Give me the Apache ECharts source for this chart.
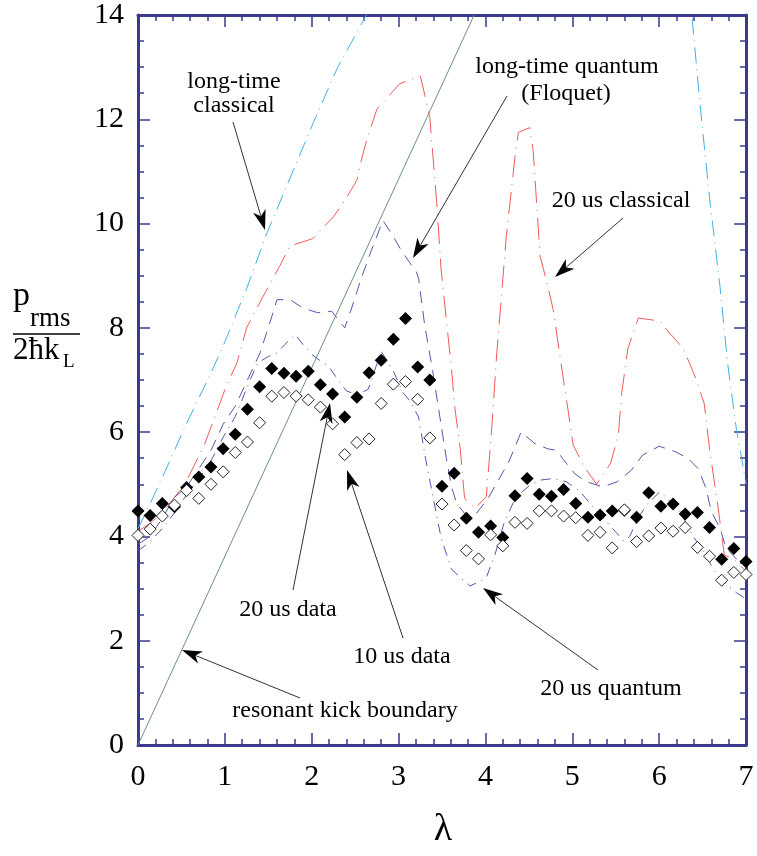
<!DOCTYPE html>
<html><head><meta charset="utf-8">
<script src="https://cdn.jsdelivr.net/npm/echarts@6/dist/echarts.min.js"></script>
<style>html,body{margin:0;padding:0;background:#fff}#c{width:757px;height:856px}</style>
</head><body><div id="c"></div>
<script>
// ---- data ----
const xTicks = [0, 1, 2, 3, 4, 5, 6, 7];
const yTicks = [0, 2, 4, 6, 8, 10, 12, 14];
const lambda = [0,0.14,0.28,0.42,0.56,0.70,0.84,0.98,1.12,1.26,1.40,1.54,1.68,1.82,1.96,2.10,2.24,2.38,2.52,2.66,2.80,2.94,3.08,3.22,3.36,3.50,3.64,3.78,3.92,4.06,4.20,4.34,4.48,4.62,4.76,4.90,5.04,5.18,5.32,5.46,5.60,5.74,5.88,6.02,6.16,6.30,6.44,6.58,6.72,6.86,7.00];
const data20us = [4.49,4.40,4.63,4.57,4.94,5.14,5.33,5.68,5.96,6.44,6.87,7.22,7.13,7.07,7.17,6.91,6.73,6.29,6.67,7.14,7.38,7.78,8.18,7.25,7.00,4.96,5.21,4.35,4.08,4.20,3.98,4.78,5.11,4.81,4.77,4.90,4.63,4.37,4.41,4.49,4.50,4.37,4.84,4.58,4.62,4.43,4.46,4.17,3.56,3.77,3.52];
const data10us = [4.02,4.14,4.39,4.60,4.88,4.73,5.00,5.24,5.61,5.81,6.18,6.69,6.76,6.69,6.62,6.48,6.16,5.57,5.80,5.87,6.55,6.92,6.97,6.63,5.89,4.62,4.22,3.73,3.57,4.03,3.82,4.27,4.25,4.49,4.49,4.39,4.36,4.02,4.08,3.78,4.51,3.90,4.01,4.16,4.10,4.17,3.79,3.62,3.16,3.31,3.27];

const ltClassX = [0,0.14,0.31,0.54,0.83,0.98,1.25,1.48,2.02,2.30,2.63,2.80,4.00,6.20,6.30,6.39,6.47,6.58,6.70,6.79,6.89,6.95,7.00];
const ltClassY = [4.15,4.63,5.24,6.10,7.10,7.65,8.75,9.80,11.94,13.00,14.00,14.60,19.0,19.0,15.3,13.75,12.30,10.50,8.80,7.30,6.05,5.50,5.00];

const cl20X = [0,0.14,0.30,0.54,0.77,1.02,1.14,1.25,1.40,1.63,1.75,2.01,2.25,2.38,2.52,2.56,2.63,2.75,2.82,3.01,3.25,3.30,3.36,3.44,3.49,3.55,3.61,3.65,3.71,3.76,3.88,4.01,4.07,4.13,4.24,4.34,4.38,4.51,4.55,4.59,4.63,4.72,4.78,4.89,4.95,5.01,5.14,5.28,5.44,5.53,5.57,5.64,5.76,6.01,6.12,6.28,6.43,6.52,6.58,6.68,6.75,6.89,7.00];
const cl20Y = [4.10,4.25,4.50,5.00,5.78,6.90,7.33,8.00,8.48,9.18,9.57,9.71,10.13,10.44,10.83,11.14,11.59,12.19,12.32,12.68,12.83,12.48,12.03,10.38,9.11,8.16,7.20,6.44,5.68,4.73,4.54,4.76,6.00,7.50,9.75,11.27,11.75,11.84,11.40,10.38,9.37,8.79,8.35,7.10,6.44,5.75,5.33,5.00,5.40,5.94,6.76,7.60,8.19,8.13,7.90,7.60,7.00,6.54,5.68,4.54,3.65,3.52,3.33];

const floqX = [0,0.14,0.28,0.42,0.56,0.70,0.84,0.98,1.12,1.26,1.40,1.50,1.60,1.75,1.90,2.07,2.23,2.38,2.46,2.57,2.69,2.82,2.94,3.03,3.15,3.20,3.23,3.30,3.39,3.55,3.61,3.67,3.76,3.90,4.03,4.17,4.26,4.34,4.41,4.57,4.72,4.82,4.89,5.03,5.16,5.35,5.52,5.68,5.81,6.00,6.18,6.33,6.45,6.54,6.60,6.70,6.77,6.90,7.00];
const floqY = [3.85,4.00,4.35,4.75,4.95,5.30,5.65,6.15,6.50,7.00,7.50,8.00,8.54,8.54,8.38,8.29,8.32,8.00,8.38,8.95,9.50,10.06,9.75,9.49,9.20,9.10,8.95,8.06,7.20,5.50,4.95,4.63,4.44,4.45,4.73,5.14,5.40,5.71,6.00,5.78,5.68,5.65,5.49,5.20,5.05,4.95,5.05,5.27,5.56,5.73,5.63,5.50,5.30,4.92,4.48,4.16,3.78,3.55,3.40];

const qu20X = [0,0.14,0.28,0.42,0.56,0.70,0.84,0.98,1.12,1.29,1.38,1.50,1.60,1.69,1.81,1.90,2.00,2.13,2.19,2.30,2.40,2.52,2.65,2.80,2.94,3.05,3.13,3.23,3.31,3.38,3.49,3.61,3.72,3.82,3.94,4.01,4.11,4.22,4.35,4.51,4.63,4.78,4.93,5.09,5.22,5.39,5.60,5.66,5.78,5.87,6.01,6.10,6.24,6.39,6.54,6.62,6.77,6.89,7.00];
const qu20Y = [3.72,3.90,4.15,4.45,4.80,5.10,5.45,5.90,6.30,7.00,7.33,7.45,7.52,7.68,7.87,7.68,7.49,7.33,7.27,7.01,6.79,6.72,6.82,7.55,7.17,6.76,6.60,6.29,5.50,4.90,3.97,3.37,3.20,3.05,3.14,3.21,3.65,4.29,4.75,4.98,5.08,5.11,5.05,4.86,4.60,4.29,3.90,4.00,4.41,4.63,4.86,4.72,4.48,4.00,3.65,3.37,3.08,2.92,2.80];

const boundX = [0, 3.87];
const boundY = [0, 14];

const zip = (xs, ys) => xs.map((x, i) => [x, ys[i]]);

// ---- styles ----
const SERIF = '"Liberation Serif", "DejaVu Serif", serif';
const AX = '#3b3a8c';

const chart = echarts.init(document.getElementById('c'), null, {renderer: 'canvas'});

function arrow(x1, y1, x2, y2) {
  const dx = x2 - x1, dy = y2 - y1, len = Math.hypot(dx, dy);
  const ux = dx / len, uy = dy / len, nx = -uy, ny = ux;
  const L = 20, W = 6.5;
  const bx = x2 - ux * L, by = y2 - uy * L;
  const mx = x2 - ux * L * 0.72, my = y2 - uy * L * 0.72;
  return [
    {type: 'line', z: 100, shape: {x1: x1, y1: y1, x2: mx, y2: my}, style: {stroke: '#333', lineWidth: 1}},
    {type: 'polygon', z: 100, shape: {points: [[x2, y2], [bx + nx * W, by + ny * W], [mx, my], [bx - nx * W, by - ny * W]]}, style: {fill: '#000'}}
  ];
}
function label(text, x, y, size) {
  return {type: 'text', z: 100, x: x, y: y, style: {text: text, fontFamily: SERIF, fontSize: size || 24, fill: '#000', align: 'center', verticalAlign: 'middle'}};
}

const graphics = [].concat(
  [label('long-time', 234, 82), label('classical', 234, 106)],
  arrow(233, 122, 265, 230),
  [label('long-time quantum', 567, 67), label('(Floquet)', 566, 94)],
  arrow(507, 96, 413, 258),
  [label('20 us classical', 621, 201)],
  arrow(623, 218, 555, 277),
  [label('20 us data', 288, 610)],
  arrow(293, 590, 330, 403),
  [label('10 us data', 402, 657)],
  arrow(403, 638, 347, 470),
  [label('resonant kick boundary', 345, 711)],
  arrow(300, 698, 182, 650),
  [label('20 us quantum', 611, 689)],
  arrow(598, 670, 483, 588),
  [
    {type: 'text', x: 13, y: 296, style: {text: 'p', fontFamily: SERIF, fontSize: 34, fill: '#000', verticalAlign: 'middle'}},
    {type: 'text', x: 30, y: 319, style: {text: 'rms', fontFamily: SERIF, fontSize: 27, fill: '#000', verticalAlign: 'middle'}},
    {type: 'line', shape: {x1: 13, y1: 334, x2: 80, y2: 334}, style: {stroke: '#000', lineWidth: 1.5}},
    {type: 'text', x: 13, y: 351, style: {text: '2ħk', fontFamily: SERIF, fontSize: 31, fill: '#000', verticalAlign: 'middle'}},
    {type: 'text', x: 63, y: 362, style: {text: 'L', fontFamily: SERIF, fontSize: 19, fill: '#000', verticalAlign: 'middle'}},
    {type: 'text', x: 443, y: 830, style: {text: 'λ', fontFamily: SERIF, fontSize: 38, fill: '#000', align: 'center', verticalAlign: 'middle'}}
  ]
);

function xAx(pos, showLabel) {
  return {
    type: 'value', position: pos, min: xTicks[0], max: xTicks[xTicks.length - 1], interval: 1,
    axisLine: {show: true, onZero: false, lineStyle: {color: AX, width: 3}},
    axisTick: {show: true, inside: true, length: 12, lineStyle: {color: AX, width: 1.5}},
    minorTick: {show: true, splitNumber: 5, length: 6, lineStyle: {color: AX, width: 1.5}},
    splitLine: {show: false},
    axisLabel: {show: showLabel, margin: 17, color: '#000', fontFamily: SERIF, fontSize: 30}
  };
}
function yAx(pos, showLabel) {
  return {
    type: 'value', position: pos, min: yTicks[0], max: yTicks[yTicks.length - 1], interval: 2,
    axisLine: {show: true, onZero: false, lineStyle: {color: AX, width: 3}},
    axisTick: {show: true, inside: true, length: 12, lineStyle: {color: AX, width: 1.5}},
    minorTick: {show: true, splitNumber: 4, length: 6, lineStyle: {color: AX, width: 1.5}},
    splitLine: {show: false},
    axisLabel: {show: showLabel, margin: 14, color: '#000', fontFamily: SERIF, fontSize: 30}
  };
}

function lineSeries(name, xs, ys, color, dash, z) {
  return {
    name: name, type: 'line', data: zip(xs, ys), showSymbol: false, symbol: 'none', clip: true, z: z || 2,
    lineStyle: {color: color, width: 1, type: dash}, emphasis: {disabled: true}
  };
}

chart.setOption({
  animation: false,
  backgroundColor: '#fff',
  grid: {left: 138, top: 10, width: 608, height: 735, containLabel: false},
  xAxis: [xAx('bottom', true), xAx('top', false)],
  yAxis: [yAx('left', true), yAx('right', false)],
  series: [
    lineSeries('resonant kick boundary', boundX, boundY, '#6f8f82', 'solid', 1),
    lineSeries('long-time classical', ltClassX, ltClassY, '#3fb2e4', [16, 6, 1, 6]),
    lineSeries('20 us classical', cl20X, cl20Y, '#f05a5a', [22, 7, 1, 7]),
    lineSeries('long-time quantum (Floquet)', floqX, floqY, '#5656a8', [12, 8]),
    lineSeries('20 us quantum', qu20X, qu20Y, '#5656a8', [10, 6, 1, 6]),
    {name: '20 us data', type: 'scatter', data: zip(lambda, data20us), symbol: 'diamond', symbolSize: 13,
     itemStyle: {color: '#000', opacity: 1}, emphasis: {disabled: true}, z: 5},
    {name: '10 us data', type: 'scatter', data: zip(lambda, data10us), symbol: 'diamond', symbolSize: 12,
     itemStyle: {color: '#fff', borderColor: '#222', borderWidth: 1, opacity: 1}, emphasis: {disabled: true}, z: 6}
  ],
  graphic: graphics
});
</script></body></html>
